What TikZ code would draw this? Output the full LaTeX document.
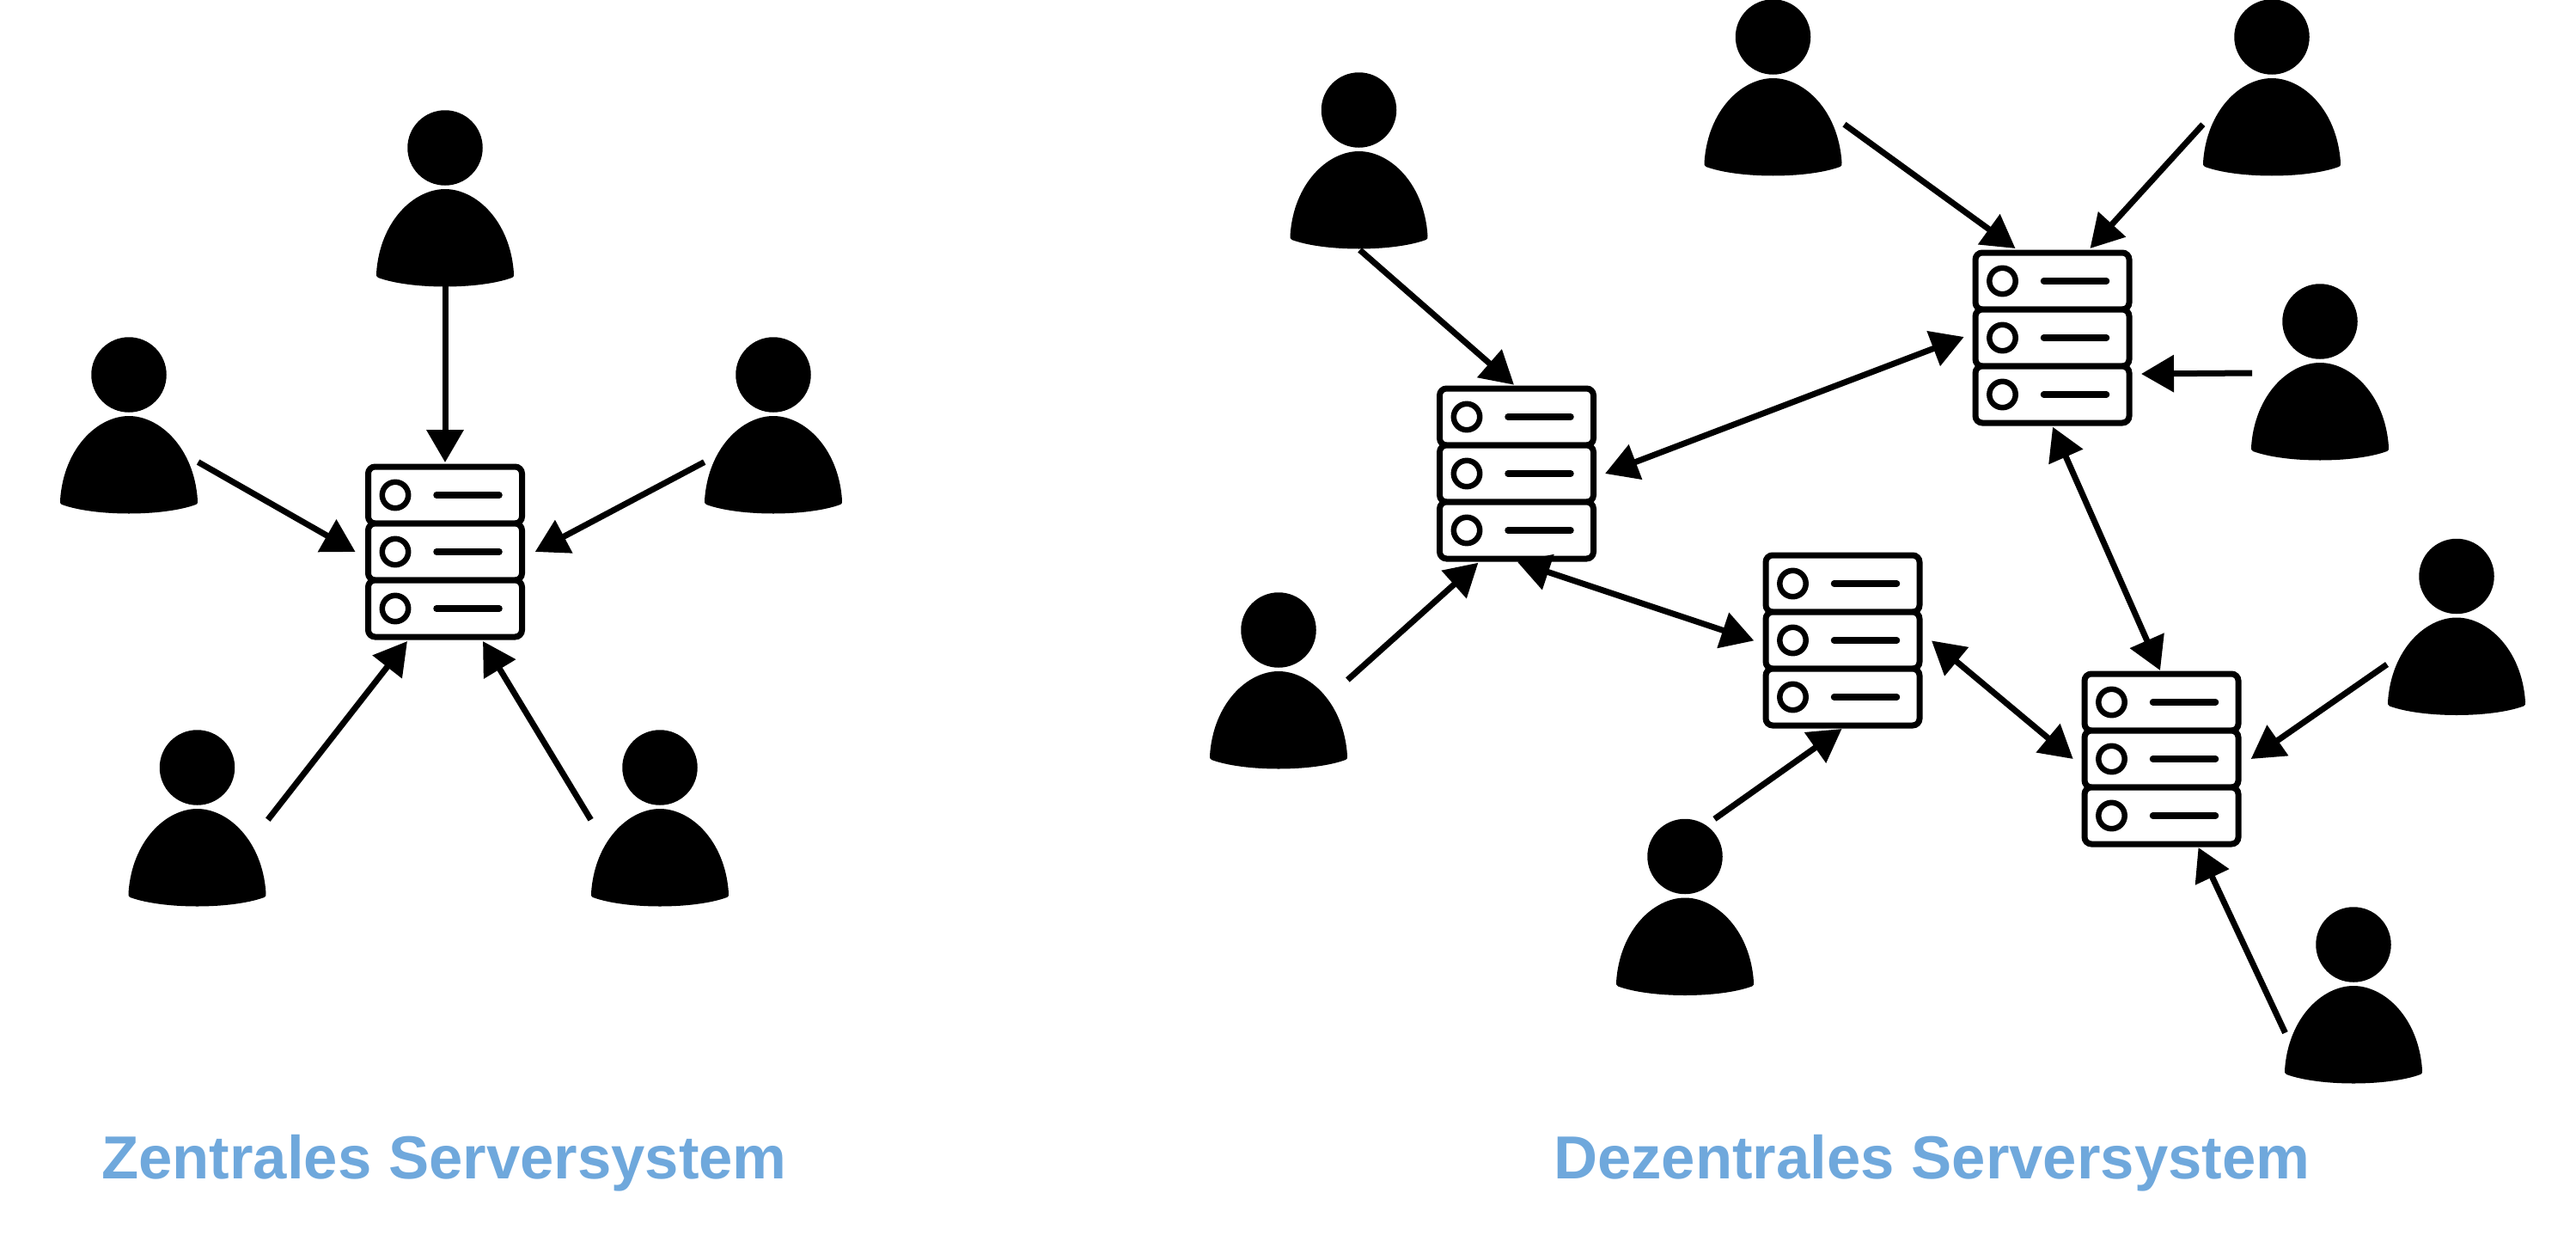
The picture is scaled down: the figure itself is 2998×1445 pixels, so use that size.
\documentclass[tikz,border=0pt]{standalone}
\usepackage{fontspec}
\setmainfont{Liberation Sans}
\usetikzlibrary{arrows.meta,calc}
\definecolor{titleblue}{HTML}{6FA8DC}
\tikzset{
  headdot/.style={circle,fill=black,inner sep=0pt,minimum size=87.5pt},
  serverbox/.style={rectangle,inner sep=0pt,minimum width=186pt,minimum height=204pt},
  rowbox/.style={draw=black,fill=white,line width=7pt,rounded corners=8pt},
  ledring/.style={draw=black,line width=6.5pt},
  ledbar/.style={draw=black,line width=7.5pt,line cap=round},
  link/.style={draw=black,line width=7pt,-{Triangle[length=38pt,width=42pt]}},
  duallink/.style={draw=black,line width=7pt,{Triangle[length=38pt,width=42pt]}-{Triangle[length=38pt,width=42pt]}},
  caption/.style={anchor=base west,inner sep=0pt,text=titleblue,font=\bfseries\fontsize{70.7}{80}\selectfont}
}
\newcommand{\personfig}[3]{%
  \node[headdot] (#1) at (#2,#3) {};
  \fill[black,shift={(#2,#3)}] (0,48) .. controls (-36,48) and (-76,85) .. (-80,146)
    .. controls (-80,149) and (-80,150) .. (-78,151)
    .. controls (-40,165) and (40,165) .. (78,151)
    .. controls (80,150) and (80,149) .. (80,146)
    .. controls (76,85) and (36,48) .. (0,48) -- cycle;
}
\newcommand{\serverfig}[3]{%
  \node[serverbox] (#1) at (#2,#3) {};
  \begin{scope}[shift={(#2,#3)}]
    \foreach \ry in {-66,0,66}{
      \path[rowbox] (-89.5,\ry-33) rectangle (89.5,\ry+33);
      \path[ledring] (-58,\ry) circle[radius=15.2pt];
      \path[ledbar] (-10,\ry) -- (63,\ry);
    }
  \end{scope}
}
\begin{document}
\begin{tikzpicture}[x=1pt,y=-1pt]
\useasboundingbox (0,0) rectangle (2998,1445);
% left system
\serverfig{sa}{518}{642}
\personfig{pa}{518}{172}
\personfig{pb}{150}{436}
\personfig{pc}{900}{436}
\personfig{pd}{229.5}{893}
\personfig{pe}{768}{893}
% right system
\serverfig{sb}{1765}{551}
\serverfig{sc}{2388.5}{393}
\serverfig{sd}{2144.5}{745}
\serverfig{se}{2515.5}{883}
\personfig{qa}{1581.5}{128}
\personfig{qb}{2063.5}{43}
\personfig{qc}{2644}{43}
\personfig{qd}{2700}{374}
\personfig{qe}{2859}{670.5}
\personfig{qf}{2739}{1099}
\personfig{qg}{1961}{996.5}
\personfig{qh}{1488}{733}
% connectors
\draw[link] ($(pa)+(0,161)$) -- ($(sa)+(0,-104)$);
\draw[link] ($(pb)+(80.6,101.6)$) -- ($(sa)+(-104.4,0)$);
\draw[link] ($(pc)+(-80.3,101.6)$) -- ($(sa)+(104.7,0)$);
\draw[link] ($(pd)+(82.3,60.7)$) -- ($(sa)+(-44,104)$);
\draw[link] ($(pe)+(-80.4,60.7)$) -- ($(sa)+(44,104)$);
\draw[link] ($(qa)+(1,162.8)$) -- ($(sb)+(-3,-103.3)$);
\draw[link] ($(qb)+(83,101.7)$) -- ($(sc)+(-43,-104)$);
\draw[link] ($(qc)+(-80.2,101.7)$) -- ($(sc)+(44,-104)$);
\draw[link] ($(qd)+(-79,60)$) -- ($(sc)+(103.5,42)$);
\draw[link] ($(qe)+(-81,102.5)$) -- ($(se)+(104.2,0)$);
\draw[link] ($(qf)+(-79.5,102.6)$) -- ($(se)+(43,103)$);
\draw[link] ($(qg)+(34.4,-43.7)$) -- ($(sd)+(-1,103)$);
\draw[link] ($(qh)+(80.4,58)$) -- ($(sb)+(-44.6,103.7)$);
\draw[duallink] ($(sb)+(103,0)$) -- ($(sc)+(-102.8,-1)$);
\draw[duallink] ($(sb)+(0.8,102.6)$) -- ($(sd)+(-103.2,0.4)$);
\draw[duallink] ($(sc)+(0.5,103.7)$) -- ($(se)+(-1.5,-103)$);
\draw[duallink] ($(sd)+(103.5,0.4)$) -- ($(se)+(-102.8,0)$);
% captions
\node[caption] (capl) at (118,1371) {Zentrales Serversystem};
\node[caption] (capr) at (1808,1371) {Dezentrales Serversystem};
\end{tikzpicture}
\end{document}
